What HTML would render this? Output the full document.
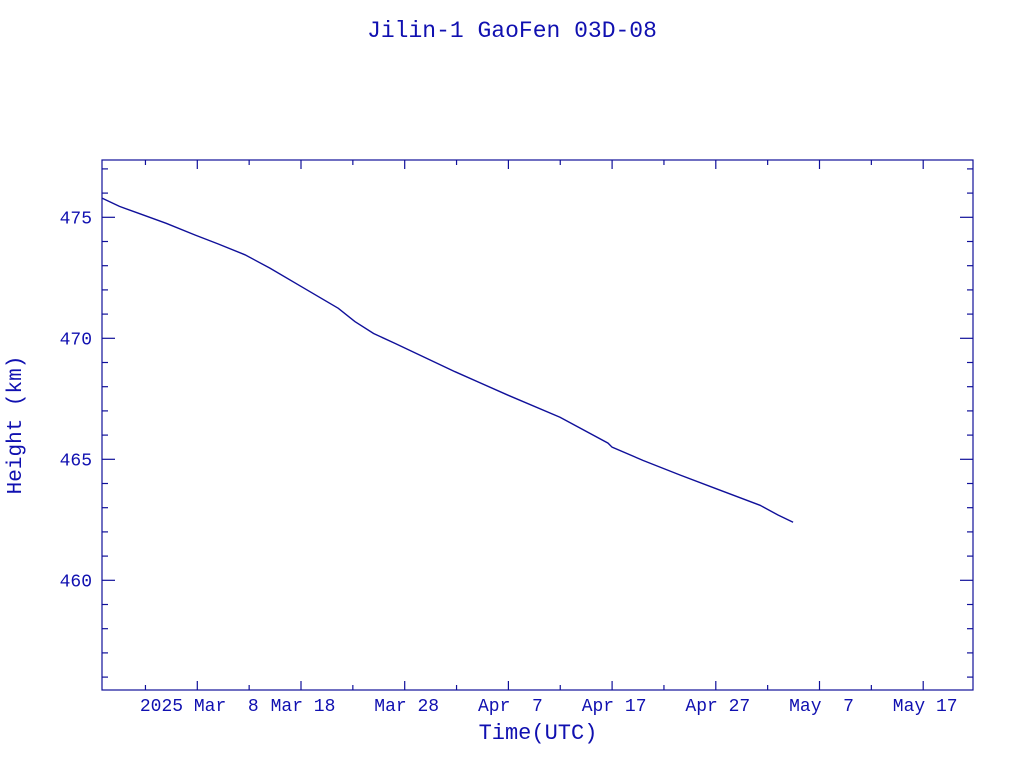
<!DOCTYPE html>
<html><head><meta charset="utf-8"><style>
body{margin:0;background:#fff;}
svg text{font-family:"Liberation Mono",monospace;fill:#1010b0;}
</style></head><body>
<svg id="chart" width="1024" height="768" xmlns="http://www.w3.org/2000/svg">
<rect width="1024" height="768" fill="#fff"/>
<text x="512" y="37" font-size="23" text-anchor="middle">Jilin-1 GaoFen 03D-08</text>
<rect x="102" y="160" width="871" height="530" fill="none" stroke="#10109a" stroke-width="1.2"/>
<g id="ticks"></g>
<path id="line" fill="none" stroke="#10109a" stroke-width="1.4"/>
<text x="538" y="739" font-size="22" text-anchor="middle">Time(UTC)</text>
<text x="0" y="0" font-size="21" text-anchor="middle" transform="translate(21,425) rotate(-90)">Height (km)</text>
</svg>
<script>
// days since 2025 Mar 8 00:00 UTC
const days = [-9.16,-7.5,-5.69,-3,-0.22,2,4.6,7,10.07,13.6,15.2,17,19.06,22,24.85,29.96,34.98,39.6,40.0,43,46.55,49.93,54.27,56,57.45];
const heights = [475.79,475.45,475.17,474.75,474.27,473.9,473.45,472.9,472.13,471.24,470.69,470.2,469.79,469.2,468.62,467.65,466.74,465.67,465.5,464.95,464.35,463.8,463.1,462.7,462.4];
const xTickDays = [0,10,20,30,40,50,60,70];
const xTickLabels = ["2025 Mar  8","Mar 18","Mar 28","Apr  7","Apr 17","Apr 27","May  7","May 17"];
const yTicks = [460,465,470,475];

const X0=102,X1=973,Y0=160,Y1=690;
const xS = d => 197.3 + d*10.37;
const yS = h => 580.3 - (h-460)*24.2;
const NS="http://www.w3.org/2000/svg";
const g=document.getElementById('ticks');
function ln(x1,y1,x2,y2){const l=document.createElementNS(NS,'line');
l.setAttribute('x1',x1);l.setAttribute('y1',y1);l.setAttribute('x2',x2);l.setAttribute('y2',y2);
l.setAttribute('stroke','#10109a');l.setAttribute('stroke-width','1.2');


g.appendChild(l);}
function tx(x,y,s,a){const t=document.createElementNS(NS,'text');
t.setAttribute('x',x);t.setAttribute('y',y);t.setAttribute('font-size','18');t.setAttribute('text-anchor',a);
t.setAttribute('xml:space','preserve');t.style.whiteSpace='pre';t.textContent=s;


g.appendChild(t);}
for(let d=-10;d<=75;d+=5){const x=xS(d);if(x<X0+1||x>X1-1)continue;
 const major=d%10===0;const L=major?9:5;ln(x,Y1,x,Y1-L);ln(x,Y0,x,Y0+L);}
xTickDays.forEach((d,i)=>tx(xS(d)+2,711,xTickLabels[i],'middle'));
for(let h=455;h<=478;h++){const y=yS(h);if(y<Y0+1||y>Y1-1)continue;
 const major=h%5===0;const L=major?13:6;ln(X0,y,X0+L,y);ln(X1,y,X1-L,y);}
yTicks.forEach(h=>tx(92,yS(h)+6,String(h),'end'));
document.getElementById('line').setAttribute('d',days.map((d,i)=>(i?'L':'M')+xS(d).toFixed(1)+' '+yS(heights[i]).toFixed(1)).join(' '));
</script>
</body></html>
